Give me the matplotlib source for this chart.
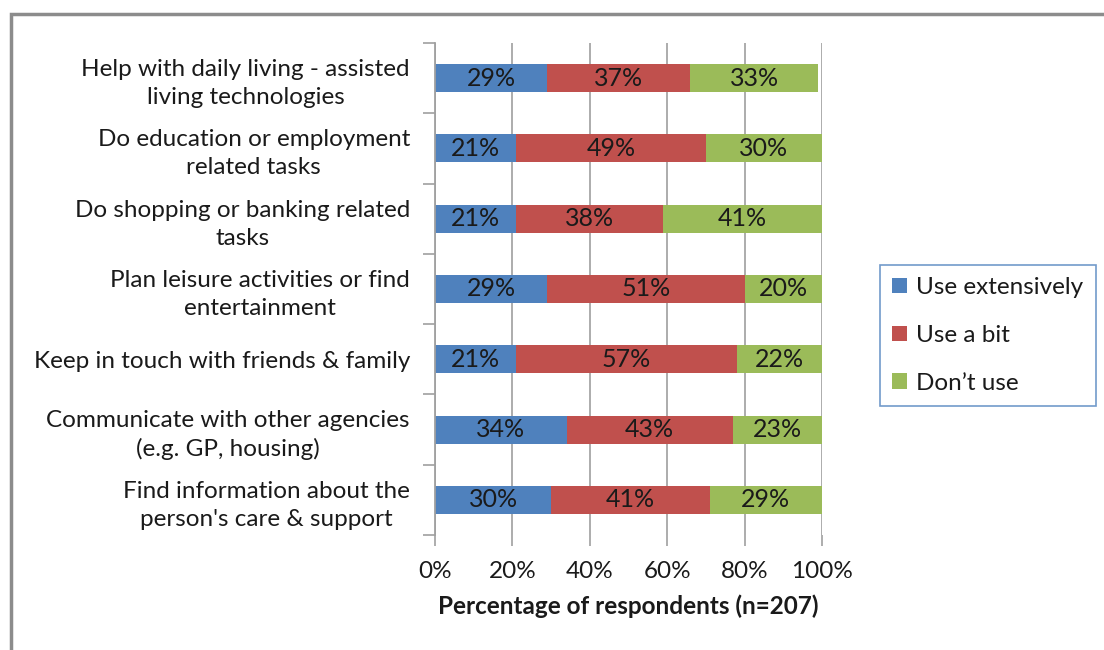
import numpy as np
import matplotlib.pyplot as plt
from matplotlib.patches import Rectangle

plt.rcParams['font.family'] = ['Lato', 'DejaVu Sans']

# tasks, top to bottom
tasks = ["Help with daily living - assisted\nliving technologies",
         "Do education or employment\nrelated tasks",
         "Do shopping or banking related\ntasks",
         "Plan leisure activities or find\nentertainment",
         "Keep in touch with friends & family",
         "Communicate with other agencies\n(e.g. GP, housing)",
         "Find information about the\nperson's care & support"]
use_extensively = [29, 21, 21, 29, 21, 34, 30]
use_a_bit = [37, 49, 38, 51, 57, 43, 41]
dont_use = [33, 30, 41, 20, 22, 23, 29]

series = [("Use extensively", use_extensively, "#4F81BD"),
          ("Use a bit", use_a_bit, "#C0504D"),
          ("Don\u2019t use", dont_use, "#9BBB59")]

fs = 17.5
fig = plt.figure(figsize=(11.04, 6.5), dpi=100)
ax = fig.add_axes([435/1104, 1-535/650, 387/1104, 492/650])

y = np.arange(len(tasks))
left = np.zeros(len(tasks))
for name, vals, col in series:
    vals = np.array(vals, dtype=float)
    bars = ax.barh(y, vals, left=left, height=0.4, color=col, label=name, zorder=3)
    for b, v in zip(bars, vals):
        ax.text(b.get_x() + b.get_width()/2, b.get_y() + b.get_height()/2,
                "%d%%" % v, ha='center', va='center', fontsize=18,
                color='#1a1a1a', zorder=4)
    left += vals

ax.set_xlim(0, 100)
ax.set_ylim(len(tasks) - 0.5, -0.5)
ax.set_xticks(np.arange(0, 101, 20))
ax.set_xticklabels(["%d%%" % v for v in range(0, 101, 20)], fontsize=fs, color='#1a1a1a')
ax.set_yticks(y)
ax.set_yticklabels(tasks, fontsize=fs, color='#1a1a1a', linespacing=1.4,
                   multialignment='center')
ax.set_yticks(np.arange(-0.5, len(tasks)), minor=True)
ax.tick_params(axis='y', which='major', length=0, pad=18)
ax.tick_params(axis='y', which='minor', length=9, color='#a0a0a0', width=1.2)
ax.tick_params(axis='x', length=8, color='#a0a0a0', width=1.2, pad=11)
ax.xaxis.grid(True, color='#a6a6a6', linewidth=1.3, zorder=0)
for s in ['top', 'right', 'bottom']:
    ax.spines[s].set_visible(False)
ax.spines['left'].set_color('#a0a0a0')
ax.spines['left'].set_linewidth(1.3)
ax.spines['left'].set_zorder(5)

ax.set_xlabel("Percentage of respondents (n=207)", fontsize=fs, fontweight='bold',
              color='#1a1a1a', labelpad=9)

leg = fig.legend(loc='upper left', bbox_to_anchor=(880/1104, 1-265/650),
                 fontsize=fs, frameon=True, fancybox=False, handlelength=0.6,
                 handleheight=0.6, labelspacing=1.1, borderpad=0.5,
                 handletextpad=0.4, borderaxespad=0)
leg.get_frame().set_edgecolor('#4F81BD')
leg.get_frame().set_linewidth(1.2)
for t in leg.get_texts():
    t.set_color('#1a1a1a')

# chart frame
fig.patches.append(Rectangle((11/1104, -0.1), 1.2, 1-14/650 + 0.1, transform=fig.transFigure,
                             fill=False, edgecolor='#8c8c8c', linewidth=2.5))

fig.savefig("out.png", dpi=100)
